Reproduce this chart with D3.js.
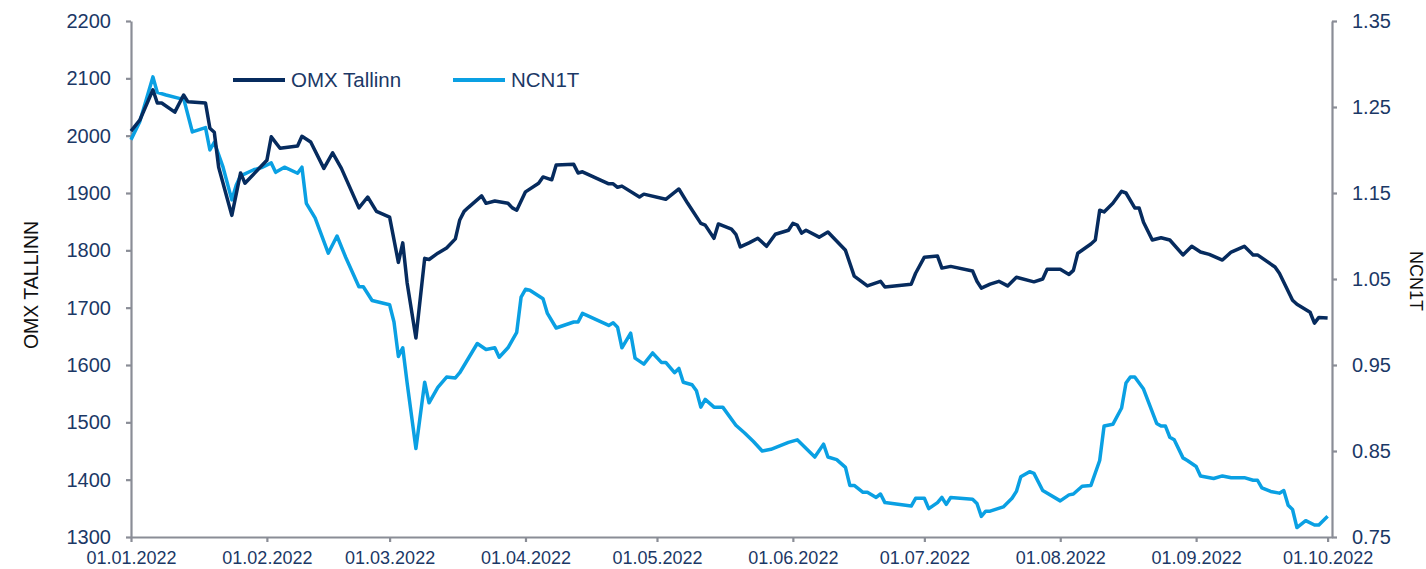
<!DOCTYPE html>
<html lang="en">
<head>
    <meta charset="UTF-8">
    <title>OMX Tallinn vs NCN1T</title>
    <script src="https://cdn.jsdelivr.net/npm/d3@7/dist/d3.min.js"></script>
    <style>
        html, body {
            margin: 0;
            padding: 0;
            background: #ffffff;
        }

        svg text {
            font-family: "Liberation Sans", Arial, sans-serif;
        }
    </style>
</head>
<body>
<svg id="chart" width="1426" height="569"></svg>
<script>
    // OMX Tallinn (left axis)
    let omxDates = ["2022-01-01", "2022-01-03", "2022-01-06", "2022-01-07", "2022-01-08", "2022-01-11", "2022-01-13",
        "2022-01-14", "2022-01-18", "2022-01-19", "2022-01-20", "2022-01-21", "2022-01-24", "2022-01-26", "2022-01-27",
        "2022-02-01", "2022-02-02", "2022-02-04", "2022-02-08", "2022-02-09", "2022-02-11", "2022-02-14", "2022-02-16",
        "2022-02-18", "2022-02-22", "2022-02-24", "2022-02-26", "2022-03-01", "2022-03-03", "2022-03-04", "2022-03-05",
        "2022-03-07", "2022-03-09", "2022-03-10", "2022-03-12", "2022-03-14", "2022-03-16", "2022-03-17", "2022-03-18",
        "2022-03-19", "2022-03-22", "2022-03-23", "2022-03-25", "2022-03-28", "2022-03-29", "2022-03-30", "2022-04-01",
        "2022-04-04", "2022-04-05", "2022-04-07", "2022-04-08", "2022-04-12", "2022-04-13", "2022-04-14", "2022-04-20",
        "2022-04-21", "2022-04-22", "2022-04-23", "2022-04-27", "2022-04-28", "2022-05-03", "2022-05-06", "2022-05-08",
        "2022-05-11", "2022-05-12", "2022-05-14", "2022-05-15", "2022-05-18", "2022-05-19", "2022-05-20", "2022-05-22",
        "2022-05-24", "2022-05-26", "2022-05-28", "2022-05-31", "2022-06-01", "2022-06-02", "2022-06-03", "2022-06-04",
        "2022-06-07", "2022-06-09", "2022-06-13", "2022-06-15", "2022-06-18", "2022-06-21", "2022-06-22", "2022-06-28",
        "2022-06-29", "2022-07-01", "2022-07-04", "2022-07-05", "2022-07-07", "2022-07-12", "2022-07-13", "2022-07-14",
        "2022-07-16", "2022-07-18", "2022-07-20", "2022-07-22", "2022-07-26", "2022-07-28", "2022-07-29", "2022-08-01",
        "2022-08-03", "2022-08-04", "2022-08-05", "2022-08-08", "2022-08-09", "2022-08-10", "2022-08-11", "2022-08-13",
        "2022-08-15", "2022-08-16", "2022-08-18", "2022-08-19", "2022-08-20", "2022-08-22", "2022-08-24", "2022-08-26",
        "2022-08-29", "2022-08-31", "2022-09-02", "2022-09-04", "2022-09-07", "2022-09-09", "2022-09-12", "2022-09-14",
        "2022-09-15", "2022-09-19", "2022-09-20", "2022-09-23", "2022-09-24", "2022-09-27", "2022-09-28", "2022-09-29",
        "2022-10-01"];
    let omxValues = [2008, 2027, 2080, 2057, 2057, 2041, 2071,
        2059, 2057, 2013, 2006, 1945, 1861, 1935, 1917,
        1957, 1998, 1978, 1982, 1999, 1989, 1943, 1970,
        1943, 1874, 1893, 1868, 1858, 1779, 1813, 1743,
        1647, 1786, 1784, 1795, 1804, 1820, 1853, 1868,
        1875, 1895, 1882, 1886, 1882, 1874, 1870, 1902,
        1917, 1928, 1923, 1949, 1950, 1935, 1937, 1916,
        1916, 1910, 1912, 1893, 1898, 1889, 1907, 1882,
        1847, 1844, 1821, 1846, 1837, 1828, 1806, 1813,
        1821, 1807, 1828, 1835, 1847, 1844, 1830, 1835,
        1823, 1832, 1800, 1755, 1738, 1746, 1736, 1741,
        1760, 1788, 1790, 1769, 1772, 1764, 1746, 1734,
        1741, 1746, 1738, 1753, 1745, 1750, 1767, 1767,
        1758, 1765, 1795, 1811, 1818, 1870, 1867, 1882,
        1903, 1900, 1874, 1874, 1849, 1818, 1822, 1818,
        1792, 1807, 1797, 1793, 1783, 1797, 1807, 1792,
        1792, 1771, 1760, 1713, 1706, 1692, 1673, 1683,
        1682];

    // NCN1T (right axis)
    let ncnDates = ["2022-01-01", "2022-01-03", "2022-01-06", "2022-01-07", "2022-01-09", "2022-01-12", "2022-01-13",
        "2022-01-15", "2022-01-18", "2022-01-19", "2022-01-20", "2022-01-22", "2022-01-24", "2022-01-25", "2022-01-26",
        "2022-01-29", "2022-01-31", "2022-02-02", "2022-02-03", "2022-02-05", "2022-02-08", "2022-02-09", "2022-02-10",
        "2022-02-12", "2022-02-15", "2022-02-17", "2022-02-19", "2022-02-22", "2022-02-23", "2022-02-25", "2022-03-01",
        "2022-03-02", "2022-03-03", "2022-03-04", "2022-03-05", "2022-03-07", "2022-03-09", "2022-03-10", "2022-03-12",
        "2022-03-14", "2022-03-16", "2022-03-17", "2022-03-21", "2022-03-23", "2022-03-25", "2022-03-26", "2022-03-28",
        "2022-03-30", "2022-03-31", "2022-04-01", "2022-04-02", "2022-04-05", "2022-04-06", "2022-04-08", "2022-04-12",
        "2022-04-13", "2022-04-14", "2022-04-20", "2022-04-21", "2022-04-22", "2022-04-23", "2022-04-25", "2022-04-26",
        "2022-04-28", "2022-04-30", "2022-05-02", "2022-05-03", "2022-05-05", "2022-05-06", "2022-05-07", "2022-05-09",
        "2022-05-10", "2022-05-11", "2022-05-12", "2022-05-14", "2022-05-16", "2022-05-19", "2022-05-21", "2022-05-23",
        "2022-05-25", "2022-05-27", "2022-05-31", "2022-06-02", "2022-06-06", "2022-06-08", "2022-06-09", "2022-06-11",
        "2022-06-13", "2022-06-14", "2022-06-15", "2022-06-17", "2022-06-18", "2022-06-20", "2022-06-21", "2022-06-22",
        "2022-06-28", "2022-06-29", "2022-07-01", "2022-07-02", "2022-07-04", "2022-07-05", "2022-07-06", "2022-07-07",
        "2022-07-12", "2022-07-13", "2022-07-14", "2022-07-15", "2022-07-16", "2022-07-19", "2022-07-21", "2022-07-22",
        "2022-07-23", "2022-07-25", "2022-07-26", "2022-07-28", "2022-08-01", "2022-08-03", "2022-08-04", "2022-08-06",
        "2022-08-08", "2022-08-10", "2022-08-11", "2022-08-13", "2022-08-15", "2022-08-16", "2022-08-17", "2022-08-18",
        "2022-08-20", "2022-08-23", "2022-08-24", "2022-08-25", "2022-08-26", "2022-08-27", "2022-08-29", "2022-08-30",
        "2022-09-01", "2022-09-02", "2022-09-05", "2022-09-07", "2022-09-09", "2022-09-12", "2022-09-14", "2022-09-15",
        "2022-09-16", "2022-09-18", "2022-09-20", "2022-09-21", "2022-09-22", "2022-09-23", "2022-09-24", "2022-09-26",
        "2022-09-28", "2022-09-29", "2022-10-01"];
    let ncnValues = [1.212, 1.233, 1.285, 1.267, 1.264, 1.260, 1.260,
        1.221, 1.226, 1.200, 1.209, 1.180, 1.142, 1.159, 1.170,
        1.177, 1.180, 1.185, 1.174, 1.180, 1.173, 1.180, 1.138,
        1.121, 1.080, 1.100, 1.075, 1.041, 1.041, 1.025, 1.020,
        1.000, 0.960, 0.970, 0.929, 0.853, 0.930, 0.906, 0.924,
        0.936, 0.935, 0.941, 0.975, 0.968, 0.970, 0.959, 0.970,
        0.988, 1.029, 1.038, 1.037, 1.027, 1.010, 0.993, 1.000,
        1.000, 1.010, 0.996, 0.999, 0.994, 0.970, 0.987, 0.958,
        0.951, 0.964, 0.953, 0.953, 0.941, 0.946, 0.930, 0.927,
        0.920, 0.901, 0.910, 0.901, 0.901, 0.880, 0.871, 0.861,
        0.850, 0.852, 0.860, 0.863, 0.843, 0.858, 0.843, 0.840,
        0.831, 0.810, 0.810, 0.802, 0.802, 0.796, 0.800, 0.790,
        0.786, 0.795, 0.795, 0.783, 0.790, 0.796, 0.788, 0.796,
        0.794, 0.789, 0.774, 0.780, 0.780, 0.785, 0.795, 0.803,
        0.820, 0.826, 0.824, 0.804, 0.792, 0.799, 0.800, 0.809,
        0.810, 0.839, 0.879, 0.881, 0.900, 0.929, 0.936, 0.936,
        0.922, 0.882, 0.879, 0.879, 0.866, 0.863, 0.842, 0.839,
        0.832, 0.821, 0.818, 0.821, 0.819, 0.819, 0.816, 0.816,
        0.807, 0.803, 0.801, 0.804, 0.787, 0.782, 0.761, 0.769,
        0.764, 0.764, 0.774];

    let leftTicks = [1300, 1400, 1500, 1600, 1700, 1800, 1900, 2000, 2100, 2200];
    let rightTicks = [0.75, 0.85, 0.95, 1.05, 1.15, 1.25, 1.35];
    let seriesNames = ["OMX Tallinn", "NCN1T"];
    let leftTitle = "OMX TALLINN";
    let rightTitle = "NCN1T";

    let cOmx = "#062b5e", cNcn = "#0aa0e3";
    let axisCol = "#8a8d96", labelCol = "#1b3866";

    let parse = d3.utcParse("%Y-%m-%d");
    let omx = omxDates.map((d, i) => ({date: parse(d), v: omxValues[i]}));
    let ncn = ncnDates.map((d, i) => ({date: parse(d), v: ncnValues[i]}));

    let plotL = 131, plotR = 1332, plotT = 21, plotB = 537;

    let x = d3.scaleUtc()
        .domain([parse("2022-01-01"), parse("2022-10-02")])
        .range([plotL, plotR]);
    let yL = d3.scaleLinear().domain([1300, 2200]).range([plotB, plotT]);
    let yR = d3.scaleLinear().domain([0.75, 1.35]).range([plotB, plotT]);

    let svg = d3.select("#chart");

    function styleAxis(g, size) {
        g.select(".domain").attr("stroke", axisCol).attr("stroke-width", 2.2);
        g.selectAll(".tick line").attr("stroke", axisCol).attr("stroke-width", 2.2);
        g.selectAll(".tick text")
            .attr("fill", labelCol)
            .style("font-size", size + "px");
    }

    // bottom axis
    let gx = svg.append("g")
        .attr("transform", "translate(0," + plotB + ")")
        .call(d3.axisBottom(x)
            .ticks(d3.utcMonth.every(1))
            .tickFormat(d3.utcFormat("%d.%m.%Y"))
            .tickSize(5)
            .tickSizeOuter(0)
            .tickPadding(9));
    styleAxis(gx, 18);

    // left axis
    let gl = svg.append("g")
        .attr("transform", "translate(" + plotL + ",0)")
        .call(d3.axisLeft(yL).tickValues(leftTicks).tickFormat(d3.format("d"))
            .tickSize(5).tickSizeOuter(0).tickPadding(15));
    styleAxis(gl, 20);

    // right axis
    let gr = svg.append("g")
        .attr("transform", "translate(" + plotR + ",0)")
        .call(d3.axisRight(yR).tickValues(rightTicks).tickFormat(d3.format(".2f"))
            .tickSize(5).tickSizeOuter(0).tickPadding(15));
    styleAxis(gr, 20);

    // axis titles
    svg.append("text")
        .attr("transform", "translate(38,285) rotate(-90)")
        .attr("text-anchor", "middle")
        .style("font-size", "19.5px")
        .attr("fill", "#111")
        .text(leftTitle);

    svg.append("text")
        .attr("transform", "translate(1410,281) rotate(90)")
        .attr("text-anchor", "middle")
        .style("font-size", "18px")
        .attr("fill", "#111")
        .text(rightTitle);

    // lines
    let lineL = d3.line().x(d => x(d.date)).y(d => yL(d.v));
    let lineR = d3.line().x(d => x(d.date)).y(d => yR(d.v));

    svg.append("path")
        .datum(ncn)
        .attr("d", lineR)
        .attr("fill", "none")
        .attr("stroke", cNcn)
        .attr("stroke-width", 3.5)
        .attr("stroke-linejoin", "round");

    svg.append("path")
        .datum(omx)
        .attr("d", lineL)
        .attr("fill", "none")
        .attr("stroke", cOmx)
        .attr("stroke-width", 3.5)
        .attr("stroke-linejoin", "round");

    // legend
    let legend = svg.append("g").attr("transform", "translate(233,80)");
    let lg = legend.selectAll("g.item")
        .data(seriesNames)
        .enter()
        .append("g")
        .attr("class", "item")
        .attr("transform", (d, i) => "translate(" + i * 220 + ",0)");

    lg.append("line")
        .attr("x1", 0).attr("x2", 52)
        .attr("y1", 0).attr("y2", 0)
        .attr("stroke", (d, i) => i === 0 ? cOmx : cNcn)
        .attr("stroke-width", 4);

    lg.append("text")
        .attr("x", 58)
        .attr("y", 7)
        .style("font-size", "20.5px")
        .attr("fill", labelCol)
        .text(d => d);
</script>
</body>
</html>
